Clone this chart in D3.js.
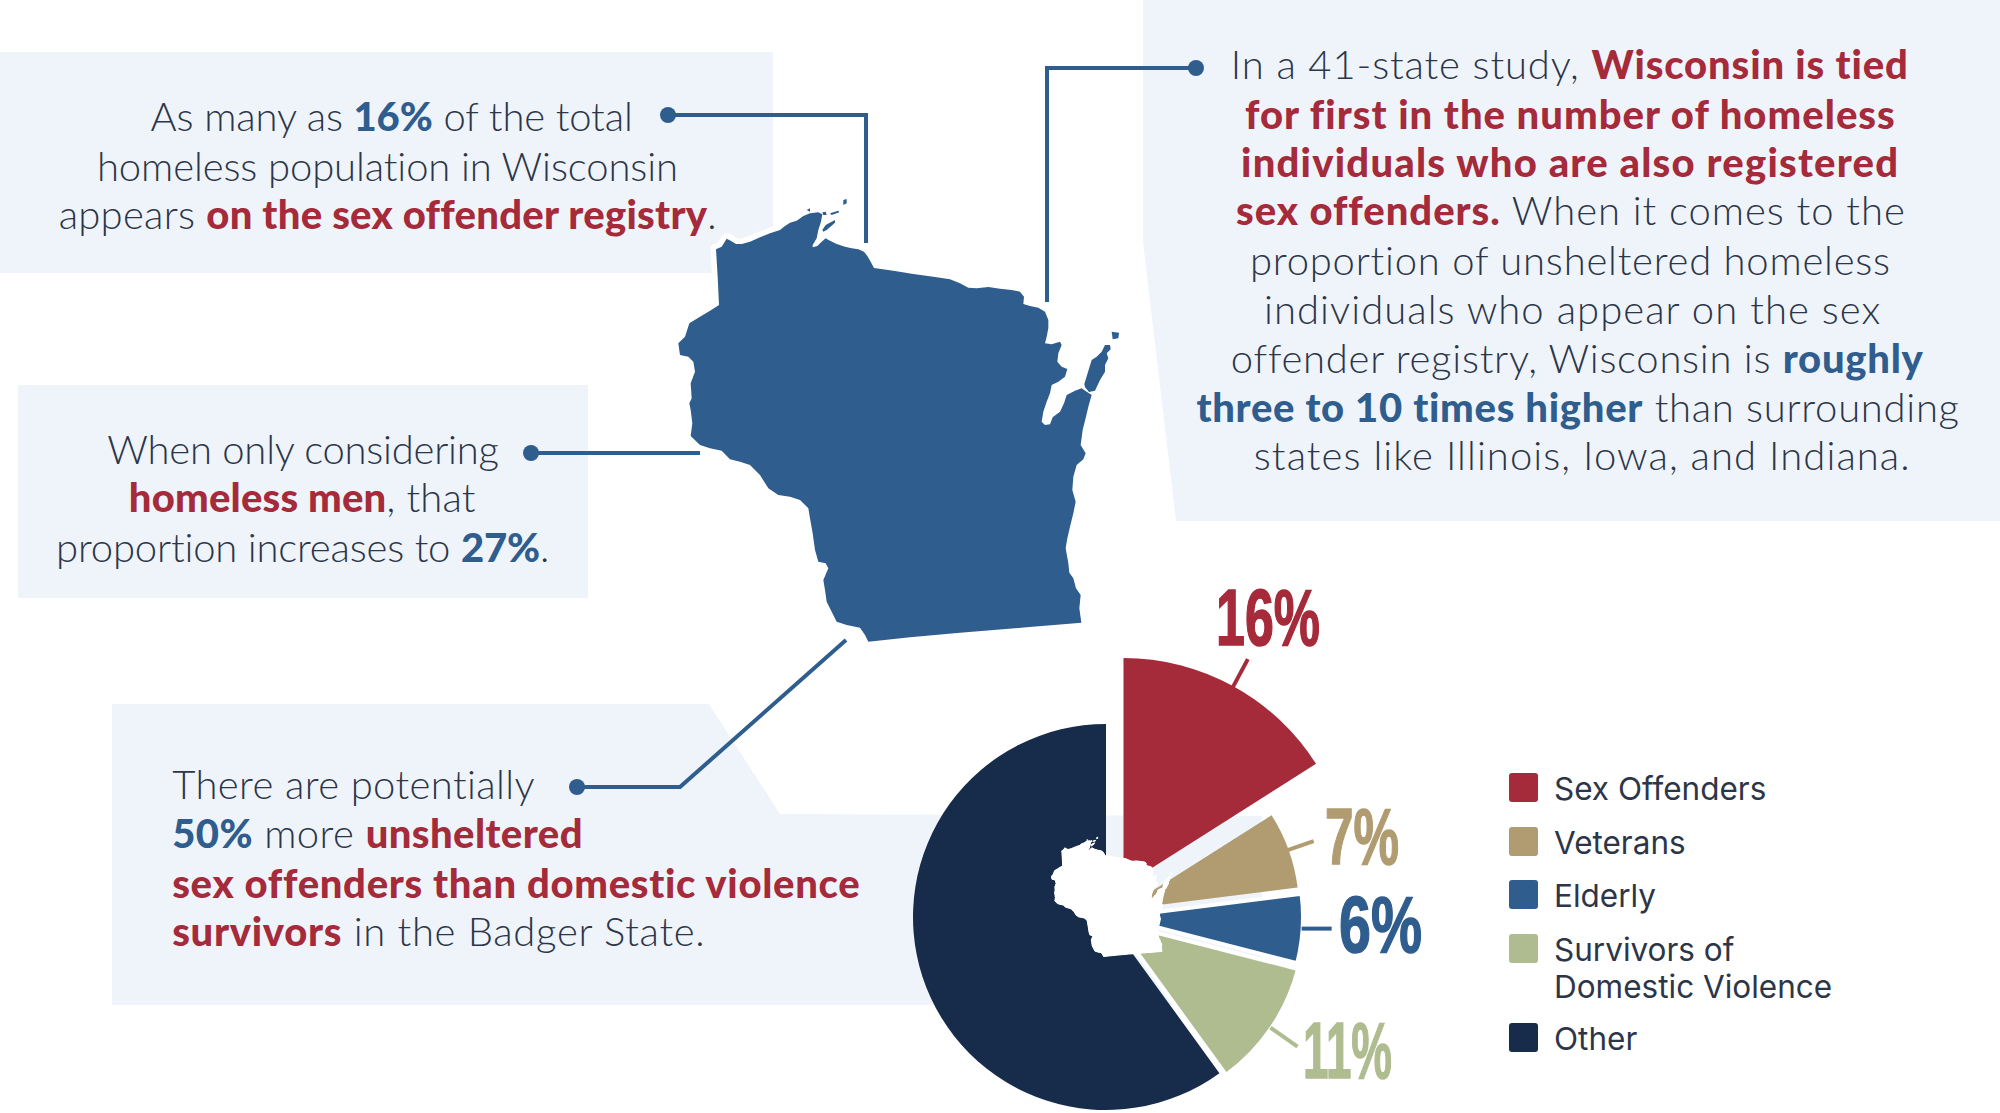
<!DOCTYPE html>
<html>
<head>
<meta charset="utf-8">
<title>Homeless sex offenders in Wisconsin</title>
<script src="https://d3js.org/d3.v7.min.js"></script>
<style>
  html, body { margin: 0; background: #fff; }
  svg { display: block; }
  text { font-family: Lato, "Open Sans", sans-serif; }
</style>
</head>
<body>
<svg id="chart" width="2000" height="1113"></svg>
<script>
// pie values
var sliceNames = ["Sex Offenders", "Veterans", "Elderly", "Survivors of\nDomestic Violence", "Other"];
var sliceValues = [16, 7, 6, 11, 60];

// text blocks, each run is [string, style]
var blockTopLeft = [
  [["As many as ", "n"], ["16%", "b"], [" of the total", "n"]],
  [["homeless population in Wisconsin", "n"]],
  [["appears ", "n"], ["on the sex offender registry", "r"], [".", "n"]]
];
var blockMidLeft = [
  [["When only considering", "n"]],
  [["homeless men", "r"], [", that", "n"]],
  [["proportion increases to ", "n"], ["27%", "b"], [".", "n"]]
];
var blockBottomLeft = [
  [["There are potentially", "n"]],
  [["50%", "b"], [" more ", "n"], ["unsheltered", "r"]],
  [["sex offenders than domestic violence", "r"]],
  [["survivors", "r"], [" in the Badger State.", "n"]]
];
var blockTopRight = [
  [["In a 41-state study, ", "n"], ["Wisconsin is tied", "r"]],
  [["for first in the number of homeless", "r"]],
  [["individuals who are also registered", "r"]],
  [["sex offenders.", "r"], [" When it comes to the", "n"]],
  [["proportion of unsheltered homeless", "n"]],
  [["individuals who appear on the sex", "n"]],
  [["offender registry, Wisconsin is ", "n"], ["roughly", "b"]],
  [["three to 10 times higher", "b"], [" than surrounding", "n"]],
  [["states like Illinois, Iowa, and Indiana.", "n"]]
];

// line extents for the blocks: [left, right, baseline]
var extTopLeft = [[118, 496, 102], [76, 532, 141], [46, 561, 179]];
var extMidLeft = [[84, 391, 363], [101, 373, 401], [44, 431, 440]];
var extBottomLeft = [[135, 420, 626], [135, 457, 664], [135, 674, 703], [135, 553, 741]];
var extTopRight = [[965, 1497, 61], [976, 1486, 100], [973, 1489, 138], [969, 1493, 176], [980, 1483, 215],
  [991, 1475, 253], [965, 1507, 292], [938, 1537, 330], [983, 1498, 368]];

// state outline
var outlineMain = [[168,208],[185,200],[200,176],[212,182],[228,192],[245,192],[270,185],[300,172],[330,160],[360,150],[375,138],[390,128],[410,122],[430,108],[450,100],[475,97],[487,103],[483,125],[475,150],[470,175],[458,195],[458,202],[472,198],[485,185],[497,175],[510,182],[530,192],[555,200],[575,205],[595,208],[612,215],[622,228],[632,245],[642,264],[700,272],[760,282],[820,290],[870,298],[900,310],[925,323],[950,325],[985,321],[1020,326],[1055,330],[1080,335],[1092,350],[1090,372],[1110,378],[1135,383],[1155,395],[1165,420],[1165,445],[1160,470],[1155,490],[1175,493],[1200,485],[1205,495],[1195,520],[1192,545],[1205,560],[1222,567],[1215,590],[1195,605],[1175,615],[1170,640],[1160,665],[1150,695],[1145,725],[1155,735],[1170,733],[1178,712],[1200,695],[1212,670],[1220,645],[1245,632],[1265,625],[1280,635],[1295,645],[1285,680],[1278,710],[1268,750],[1262,795],[1277,820],[1270,838],[1250,855],[1240,890],[1237,930],[1247,965],[1240,1000],[1230,1040],[1222,1075],[1217,1105],[1225,1150],[1228,1178],[1240,1195],[1248,1225],[1262,1245],[1258,1285],[1264,1328],[1100,1342],[900,1358],[750,1372],[625,1385],[615,1365],[600,1343],[560,1335],[530,1325],[515,1295],[500,1265],[495,1230],[490,1200],[505,1165],[497,1150],[475,1145],[465,1110],[458,1060],[450,1015],[445,985],[420,960],[390,950],[355,945],[325,925],[300,885],[270,855],[240,845],[210,838],[185,812],[150,805],[120,795],[92,768],[97,730],[92,690],[88,670],[95,655],[92,610],[105,575],[100,545],[85,530],[60,525],[55,490],[75,470],[88,430],[120,410],[150,392],[177,375],[173,290]];
var outlineDoor = [[1273,612],[1295,540],[1310,530],[1325,515],[1335,495],[1350,495],[1352,508],[1340,520],[1345,535],[1335,555],[1335,575],[1320,600],[1305,632],[1287,636],[1275,622]];
var outlineIslands = [
  [[1355,455],[1377,458],[1375,475],[1358,478]],
  [[550,60],[560,57],[560,70],[550,75]],
  [[487,150],[497,135],[525,120],[525,128],[500,150],[490,155]],
  [[510,100],[535,92],[538,97],[515,105]],
  [[487,97],[497,95],[500,105],[490,105]],
  [[440,90],[450,85],[450,95]]
];

var RED = "#a52a3a", TAN = "#b09c70", BLUE = "#2f5d8e", GREEN = "#afbc90", NAVY = "#172b4a";
var PALE = "#eff4fb", INK = "#2c3648";

var svg = d3.select("#chart");
var px = d3.scaleLinear().domain([0, 1568]).range([0, 2000]);

// pale panels behind the text
var panels = [
  [[0,52],[773,52],[773,273],[0,273]],
  [[18,385],[588,385],[588,598],[18,598]],
  [[112,704],[709,704],[780,814],[1262,816],[1262,1005],[112,1005]],
  [[1143,0],[2000,0],[2000,521],[1176,521],[1143,242]]
];
svg.selectAll("polygon.panel").data(panels).enter().append("polygon")
  .attr("class", "panel")
  .attr("fill", PALE)
  .attr("points", function (d) { return d.join(" "); });

// connectors from the text to the state
var connectors = [
  [[668,115],[866,115],[866,243]],
  [[1196,68],[1047,68],[1047,302]],
  [[531,453],[700,453]],
  [[577,787],[680,787],[846,640]]
];
var connLine = d3.line();
svg.selectAll("path.conn").data(connectors).enter().append("path")
  .attr("class", "conn")
  .attr("fill", "none")
  .attr("stroke", BLUE)
  .attr("stroke-width", 4)
  .attr("d", connLine);
svg.selectAll("circle.conn").data(connectors).enter().append("circle")
  .attr("class", "conn")
  .attr("fill", BLUE)
  .attr("r", 8)
  .attr("cx", function (d) { return d[0][0]; })
  .attr("cy", function (d) { return d[0][1]; });

// state shape, halo pass first so it never eats a neighbouring piece
function drawState(group, x, y, fill, halo) {
  var line = d3.line().x(function (d) { return x(d[0]); }).y(function (d) { return y(d[1]); });
  var shapes = [outlineMain, outlineDoor].concat(outlineIslands);
  group.append("g").selectAll("path").data(shapes).enter().append("path")
    .attr("d", function (d) { return line(d) + "Z"; })
    .attr("fill", "#fff")
    .attr("stroke", "#fff")
    .attr("stroke-width", halo)
    .attr("stroke-linejoin", "round");
  group.append("g").selectAll("path").data(shapes).enter().append("path")
    .attr("d", function (d) { return line(d) + "Z"; })
    .attr("fill", fill);
}
var mapX = d3.scaleLinear().domain([0, 1440]).range([660, 1140]);
var mapY = d3.scaleLinear().domain([0, 1440]).range([180, 660]);
drawState(svg.append("g"), mapX, mapY, BLUE, 11);

// pie, every slice has its own centre and radius
var sliceColors = [RED, TAN, BLUE, GREEN, NAVY];
var sliceCentres = [[1123.5, 886], [1123, 909.5], [1117, 917], [1115, 922], [1106, 917]];
var sliceRadii = [228, 176, 186, 189, 193];
var sliceStroke = [0, 0, 4, 4, 0];
var pieData = d3.pie().sort(null)(sliceValues);
var arc = d3.arc().innerRadius(0);

var slices = svg.append("g").selectAll("path").data(pieData).enter().append("path")
  .attr("transform", function (d, i) { return "translate(" + sliceCentres[i] + ")"; })
  .attr("d", function (d, i) { return arc.outerRadius(sliceRadii[i])(d); })
  .attr("fill", function (d, i) { return sliceColors[i]; })
  .attr("stroke", "#fff")
  .attr("stroke-width", function (d, i) { return sliceStroke[i]; });
slices.filter(function (d, i) { return sliceStroke[i] > 0; }).raise();

// leaders run from the middle of the outer edge
var leaderEnds = [[15, -28], [26, -9], [30, 0], [27, 19], null];
pieData.forEach(function (d, i) {
  if (!leaderEnds[i]) return;
  var mid = (d.startAngle + d.endAngle) / 2;
  var sx = sliceCentres[i][0] + Math.sin(mid) * (sliceRadii[i] - 1);
  var sy = sliceCentres[i][1] - Math.cos(mid) * (sliceRadii[i] - 1);
  svg.append("line")
    .attr("x1", sx).attr("y1", sy)
    .attr("x2", sx + leaderEnds[i][0])
    .attr("y2", sy + leaderEnds[i][1])
    .attr("stroke", sliceColors[i])
    .attr("stroke-width", 4);
});

var miniX = d3.scaleLinear().domain([55, 1378]).range([1051.5, 1172.4]);
var miniY = d3.scaleLinear().domain([55, 1385]).range([837, 956.5]);
drawState(svg.append("g"), miniX, miniY, "#fff", 1);

// percent labels, squeezed to the condensed look of the original
var labelBoxes = [[1216, 104, 645], [1325, 74, 864], [1339, 83, 952], [1303, 89, 1078], null];
svg.append("g").selectAll("text").data(pieData.filter(function (d, i) { return labelBoxes[i]; })).enter().append("text")
  .attr("x", function (d, i) { return labelBoxes[i][0]; })
  .attr("y", function (d, i) { return labelBoxes[i][2]; })
  .attr("textLength", function (d, i) { return labelBoxes[i][1]; })
  .attr("lengthAdjust", "spacingAndGlyphs")
  .attr("font-size", 79)
  .attr("font-weight", 700)
  .style("font-family", "'Liberation Sans Narrow', 'Liberation Sans', sans-serif")
  .attr("fill", function (d, i) { return sliceColors[i]; })
  .attr("stroke", function (d, i) { return sliceColors[i]; })
  .attr("stroke-width", 1.5)
  .text(function (d) { return d.value + "%"; });

// legend
var legendRowY = [788, 842, 895, 949, 1038];
var legend = svg.append("g").selectAll("g").data(sliceNames).enter().append("g")
  .attr("transform", function (d, i) { return "translate(1509," + legendRowY[i] + ")"; });
legend.append("rect")
  .attr("y", -15).attr("width", 29).attr("height", 29).attr("rx", 3)
  .attr("fill", function (d, i) { return sliceColors[i]; });
legend.append("text")
  .attr("font-size", 31.5)
  .attr("fill", INK)
  .style("font-family", "Inter, sans-serif")
  .selectAll("tspan").data(function (d) { return d.split("\n"); }).enter().append("tspan")
  .attr("x", 45)
  .attr("y", function (d, i) { return 12 + i * 37; })
  .text(function (d) { return d; });

// body text, each line is fitted to its measured width
var runColor = { n: INK, r: RED, b: BLUE };
function drawBlock(lines, extents) {
  lines.forEach(function (runs, i) {
    var e = extents[i];
    var t = svg.append("text")
      .attr("x", px(e[0]))
      .attr("y", px(e[2]) + 1)
      .attr("xml:space", "preserve");
    t.selectAll("tspan").data(runs).enter().append("tspan")
      .attr("fill", function (r) { return runColor[r[1]]; })
      .attr("font-weight", function (r) { return r[1] === "n" ? 300 : 900; })
      .attr("font-size", 40)
      .text(function (r) { return r[0]; });
    var natural = t.node().getComputedTextLength();
    var chars = runs.map(function (r) { return r[0]; }).join("").length;
    t.attr("letter-spacing", (px(e[1]) - px(e[0]) - natural) / chars);
  });
}
drawBlock(blockTopLeft, extTopLeft);
drawBlock(blockMidLeft, extMidLeft);
drawBlock(blockBottomLeft, extBottomLeft);
drawBlock(blockTopRight, extTopRight);
</script>
</body>
</html>
